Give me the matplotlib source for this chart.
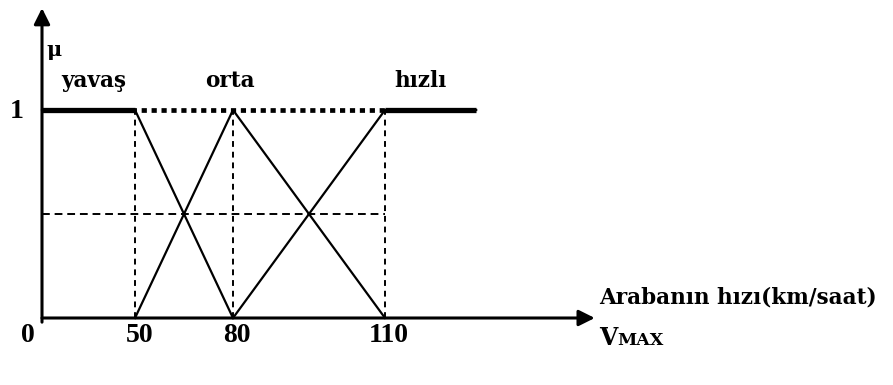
import numpy as np
import matplotlib
matplotlib.use("Agg")
import matplotlib.pyplot as plt

# membership functions (speed in km/saat, membership 0..1)
ticks = [0, 50, 80, 110]
yavas_x = [0, 50, 80]
yavas_y = [1, 1, 0]
orta_x = [50, 80, 110]
orta_y = [0, 1, 0]
hizli_x = [80, 110, 128]
hizli_y = [0, 1, 1]
names = ["yavaş", "orta", "hızlı"]
name_x = [28, 79, 117]

# the drawing is not to scale: piecewise mapping value -> pixel column
knot_v = np.array([-1000, 0, 50, 80, 110, 1000])
knot_p = np.array([42 - 1000 * 1.86, 42, 135, 233, 385, 385 + 890 * 152 / 30])

def fwd(v):
    return np.interp(v, knot_v, knot_p)

def inv(p):
    return np.interp(p, knot_p, knot_v)

plt.rcParams['font.family'] = ['DejaVu Serif']
plt.rcParams['font.weight'] = 'bold'

W, H = 893, 385
fig = plt.figure(figsize=(W / 100, H / 100), dpi=100)
ax = fig.add_axes([0, 0, 1, 1])
ax.set_xscale('function', functions=(fwd, inv))
ax.set_xlim(inv(0), inv(W))
ax.set_ylim((318 - H) / 208, 318 / 208)
ax.axis('off')

# guide lines
ax.plot([0, 110], [1, 1], color='k', lw=3.4, ls=(0, (1.1, 1.0)), dash_capstyle='butt')
ax.plot([0, 110], [0.5, 0.5], color='k', lw=1.4, ls=(0, (4, 2.5)))
for t in ticks[1:]:
    ax.plot([t, t], [0, 1], color='k', lw=1.4, ls=(0, (3, 2.5)))

# membership curves, flat parts drawn thick
for xs, ys in [(yavas_x, yavas_y), (orta_x, orta_y), (hizli_x, hizli_y)]:
    ax.plot(xs, ys, color='k', lw=1.6)
    for i in range(len(xs) - 1):
        if ys[i] == 1 and ys[i + 1] == 1:
            ax.plot(xs[i:i + 2], ys[i:i + 2], color='k', lw=3.8, solid_capstyle='butt')

# axes with arrows
ax.annotate('', xy=(0, 1.49), xytext=(0, -0.02),
            arrowprops=dict(arrowstyle='-|>', lw=2.2, color='k', mutation_scale=24,
                            shrinkA=0, shrinkB=0))
ax.annotate('', xy=(151.4, 0), xytext=(0, 0),
            arrowprops=dict(arrowstyle='-|>', lw=2.2, color='k', mutation_scale=24,
                            shrinkA=0, shrinkB=0))

for n, x in zip(names, name_x):
    ax.text(x, 1.11, n, ha='center', va='baseline', fontsize=15.5)

for t in ticks:
    ax.annotate(str(t), xy=(t, -0.025), xytext=(-10 if t == 0 else 3, 0),
                textcoords='offset points', ha='center', va='top',
                fontsize=20, family='Liberation Serif', weight='bold')
ax.annotate('1', xy=(0, 1), xytext=(-18, -1), textcoords='offset points',
            ha='center', va='center', fontsize=20, family='Liberation Serif', weight='bold')
ax.annotate('μ', xy=(0, 1.29), xytext=(9, 0), textcoords='offset points',
            ha='center', va='center', fontsize=15)

ax.text(152.2, 0.072, 'Arabanın hızı(km/saat)', ha='left', va='baseline', fontsize=15.5)
ax.text(152.2, -0.13, 'V', ha='left', va='baseline', fontsize=17)
ax.annotate('MAX', xy=(152.2, -0.13), xytext=(13, 0), textcoords='offset points',
            ha='left', va='baseline', fontsize=12.5)

plt.savefig("out.png", dpi=100)
